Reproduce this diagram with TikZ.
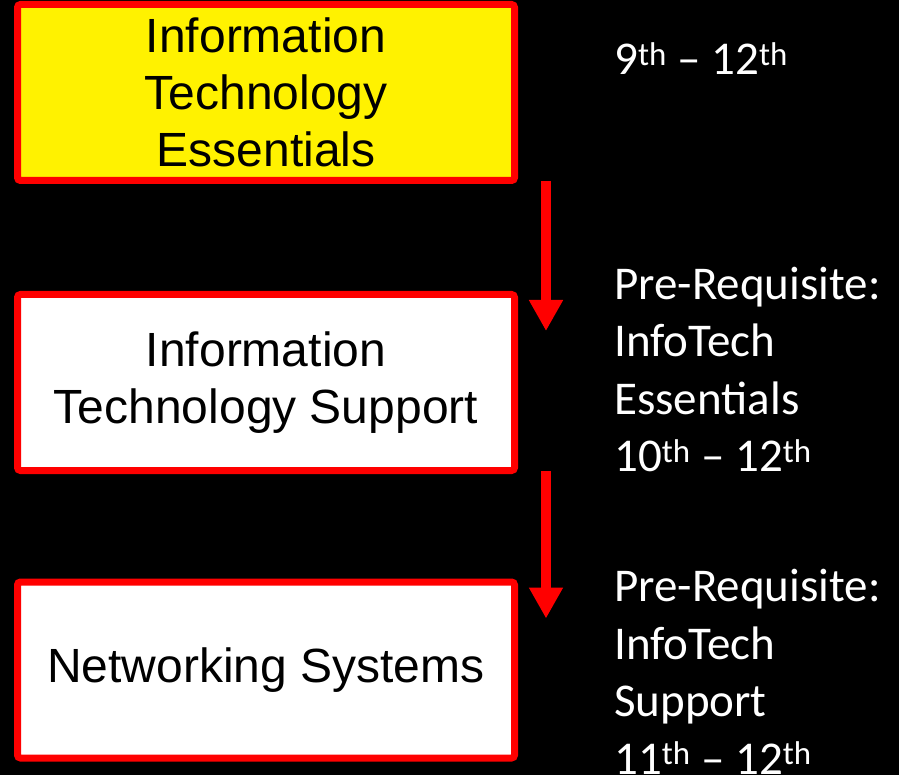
\documentclass[tikz,border=0pt]{standalone}
\usepackage{fontspec}
\setmainfont{Liberation Sans}
\newfontfamily\notefont{Carlito}
\usetikzlibrary{arrows.meta,calc}

\begin{document}
\begin{tikzpicture}[x=1pt,y=-1pt,
    coursebox/.style={draw=red,line width=7pt,rounded corners=3pt,minimum width=497pt,minimum height=176pt,inner sep=0pt,align=center,font=\fontsize{48}{57}\selectfont},
    notetext/.style={text=white,anchor=base west,align=left,inner sep=0pt,font=\notefont\fontsize{47}{57.5}\selectfont},
    flowarrow/.style={draw=red,line width=10pt,-{Triangle[width=32pt,length=31pt]}}]
    \fill[black] (0,0) rectangle (899,775);
    \useasboundingbox (0,0) rectangle (899,775);
    % course boxes
    \node[coursebox,fill=yellow] (itess) at (266,92.5) {Information\\Technology\\Essentials};
    \node[coursebox,fill=white] (itsup) at (266,382.5) {Information\\Technology Support};
    \node[coursebox,fill=white] (netsys) at (266,670) {Networking Systems};
    % arrows between boxes
    \draw[flowarrow] ($(itess.south east)+(28,-3)$) -- ($(itsup.north east)+(28,40)$);
    \draw[flowarrow] ($(itsup.south east)+(28,-3)$) -- ($(netsys.north east)+(28,40)$);
    % grade notes (placed at the baseline of the last line)
    \node[notetext] (gr1) at (614,75) {9\textsuperscript{th} – 12\textsuperscript{th}};
    \node[notetext] (gr2) at (614,471.5) {Pre-Requisite:\\InfoTech\\Essentials\\10\textsuperscript{th} – 12\textsuperscript{th}};
    \node[notetext] (gr3) at (614,774) {Pre-Requisite:\\InfoTech\\Support\\11\textsuperscript{th} – 12\textsuperscript{th}};
\end{tikzpicture}
\end{document}
